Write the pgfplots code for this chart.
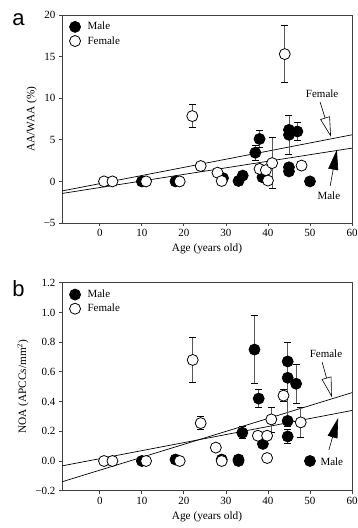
\documentclass[border=0pt]{standalone}
\usepackage{pgfplots}
\pgfplotsset{compat=1.18}
\usetikzlibrary{arrows.meta}
\usepackage{fontspec}
\setmainfont{Liberation Serif}
\newfontfamily\labelfont{Liberation Sans}

\pgfplotsset{
 myaxis/.style={
  scale only axis, width=290pt, height=208pt,
  xmin=-9, xmax=60, xtick={0,10,20,30,40,50,60},
  xticklabels={0,10,20,30,40,50,60},
  axis line style={black!75, line width=0.9pt},
  tick style={black!75, line width=0.8pt},
  tick align=outside, xtick pos=bottom, ytick pos=left, major tick length=3pt,
  tick label style={font=\fontsize{11}{12}\selectfont},
  label style={font=\fontsize{11.3}{12}\selectfont},
  xlabel={Age (years old)},
  legend style={draw=none, fill=none, at={(0.015,0.985)}, anchor=north west,
    font=\fontsize{11}{12}\selectfont, row sep=1pt,
    /tikz/every odd column/.append style={column sep=5pt}},
  legend cell align=left,
  clip=false,
 },
 male/.style={only marks, mark=*, mark size=5.5pt, mark options={fill=black, draw=black, line width=0.8pt}},
 female/.style={only marks, mark=*, mark size=5.5pt, mark options={fill=white, draw=black, line width=0.8pt}},
 errs/.style={error bars/.cd, y dir=both, y explicit,
   error mark options={rotate=90, black, mark size=3.5pt, line width=0.8pt},
   error bar style={black!65, line width=0.7pt}},
 fit/.style={black, line width=0.7pt, no marks, forget plot},
}

\begin{document}
\begin{tikzpicture}
\useasboundingbox (0,0) rectangle (357pt,-528pt);

% ---------------- panel a ----------------
\begin{axis}[myaxis, at={(62pt,-15pt)}, anchor=north west,
  ymin=-5, ymax=20, ytick={-5,0,5,10,15,20},
  yticklabels={−5,0,5,10,15,20},
  ylabel={AA/WAA (\%)}]
\addlegendimage{male}\addlegendentry{Male}
\addlegendimage{female}\addlegendentry{Female}
% regression lines
\addplot[fit] coordinates {(-9,-1.15) (60,5.6)};
\addplot[fit] coordinates {(-9,-1.45) (60,4.0)};
% male, no error
\addplot[male, forget plot] table {
x y
10 0
18 0
29.3 0.4
33 0.05
34 0.7
38.7 0.5
45 1.7
45 1.2
50 0
45 5.6
};
% male, with error
\addplot[male, forget plot, errs] table[x=x, y=y, y error plus=ep, y error minus=em] {
x y ep em
37 3.45 0.9 0.9
38 5.1 1.0 1.0
45 6.2 1.7 3.0
47 6.0 1.1 1.1
};
% female, no error
\addplot[female, forget plot] table {
x y
1 0
3 0
11 0
19 0
24 1.85
28 1.05
29 0.05
38 1.5
39.5 1.35
40 0.1
48 1.9
};
% female, with error
\addplot[female, forget plot, errs] table[x=x, y=y, y error plus=ep, y error minus=em] {
x y ep em
22 7.85 1.4 1.4
44 15.3 3.5 3.4
41 2.2 3.1 3.1
};
\node[font=\fontsize{11}{12}\selectfont] at (axis cs:52.9,10.5) {Female};
\draw[black, line width=0.6pt, -{Triangle[open, length=20pt, width=10pt, line width=0.6pt]}] (axis cs:52.4,9.55) -- (axis cs:55,5.35);
\node[font=\fontsize{11}{12}\selectfont] at (axis cs:54.5,-1.75) {Male};
\draw[black, line width=0.6pt, -{Triangle[length=20pt, width=10pt]}] (axis cs:54.8,-0.55) -- (axis cs:56.4,3.8);
\end{axis}

% ---------------- panel b ----------------
\begin{axis}[myaxis, at={(62pt,-282.7pt)}, anchor=north west,
  ymin=-0.2, ymax=1.2, ytick={-0.2,0,0.2,0.4,0.6,0.8,1.0,1.2},
  yticklabels={−0.2,0.0,0.2,0.4,0.6,0.8,1.0,1.2},
  ylabel={NOA (APCCs/mm$^{2}$)}]
\addlegendimage{male}\addlegendentry{Male}
\addlegendimage{female}\addlegendentry{Female}
\addplot[fit] coordinates {(-9,-0.14) (60,0.46)};
\addplot[fit] coordinates {(-9,-0.033) (60,0.34)};
% male, no error
\addplot[male, forget plot] table {
x y
10 0
18 0.01
29 0.01
33 0.01
33 0.0
38.8 0.115
44.7 0.27
50 0
};
% male, with error
\addplot[male, forget plot, errs] table[x=x, y=y, y error plus=ep, y error minus=em] {
x y ep em
36.8 0.75 0.23 0.23
37.8 0.42 0.06 0.06
33.9 0.19 0.04 0.04
44.7 0.67 0.13 0.13
44.7 0.56 0.24 0.33
46.7 0.52 0.13 0.13
44.7 0.165 0.045 0.045
};
% female, no error
\addplot[female, forget plot] table {
x y
1 0
3 0
11 0
19 0
27.6 0.09
29 0.0
37.6 0.17
39.8 0.17
39.8 0.02
};
% female, with error
\addplot[female, forget plot, errs] table[x=x, y=y, y error plus=ep, y error minus=em] {
x y ep em
22.1 0.68 0.15 0.15
24 0.255 0.045 0.045
40.8 0.28 0.08 0.09
43.7 0.44 0.04 0.04
47.8 0.26 0.10 0.10
};
\node[font=\fontsize{11}{12}\selectfont] at (axis cs:53.8,0.72) {Female};
\draw[black, line width=0.6pt, -{Triangle[open, length=20pt, width=10pt, line width=0.6pt]}] (axis cs:52.9,0.665) -- (axis cs:55.2,0.43);
\node[font=\fontsize{11}{12}\selectfont] at (axis cs:55.2,-0.005) {Male};
\draw[black, line width=0.6pt, -{Triangle[length=20pt, width=10pt]}] (axis cs:54.5,0.075) -- (axis cs:56.7,0.29);
\end{axis}

\node[font=\labelfont\fontsize{22}{22}\selectfont, anchor=base] at (18.5pt,-25pt) {a};
\node[font=\labelfont\fontsize{22}{22}\selectfont, anchor=base] at (18.5pt,-296pt) {b};
\end{tikzpicture}
\end{document}
